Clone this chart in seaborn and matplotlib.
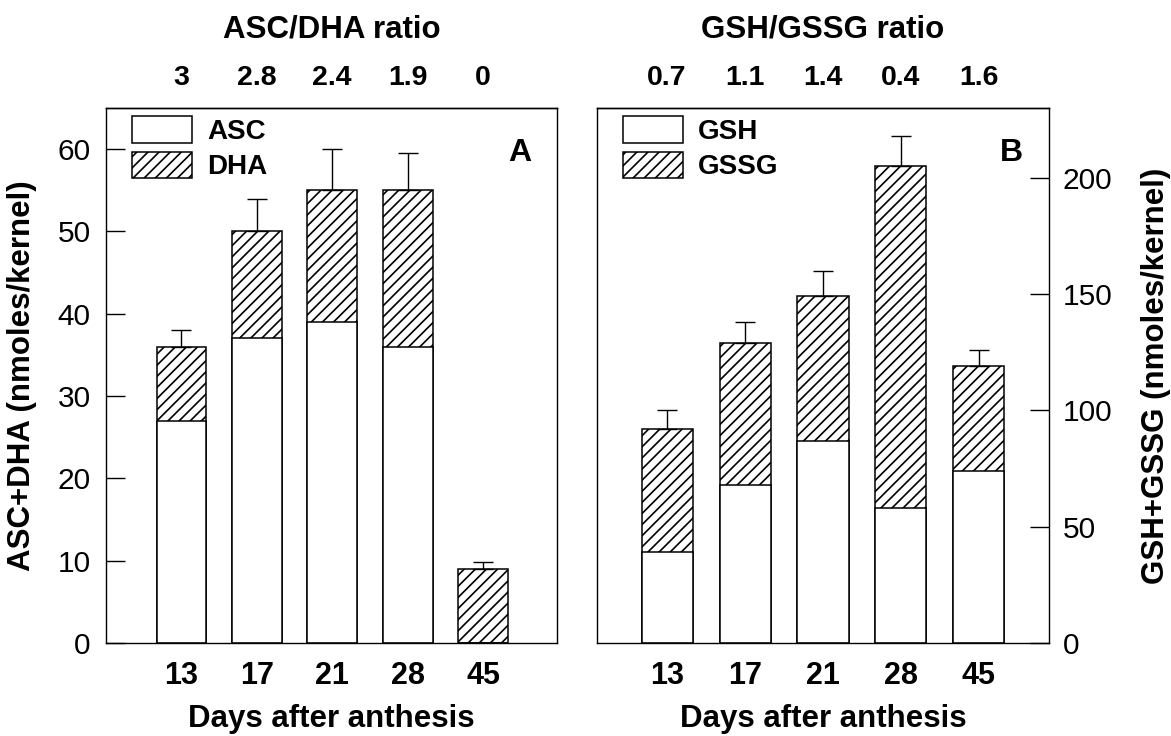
import numpy as np
import matplotlib
matplotlib.use("Agg")
import matplotlib.pyplot as plt
from matplotlib.patches import Patch
import seaborn as sns

# --- data ---
days = ['13', '17', '21', '28', '45']

asc = [27, 37, 39, 36, 0]
dha = [9, 13, 16, 19, 9]
asc_dha_err = [2, 4, 5, 4.5, 0.8]
asc_dha_ratio = ['3', '2.8', '2.4', '1.9', '0']

gsh = [39, 68, 87, 58, 74]
gssg = [53, 61, 62, 147, 45]
gsh_gssg_err = [8, 9, 11, 13, 7]
gsh_gssg_ratio = ['0.7', '1.1', '1.4', '0.4', '1.6']

# --- style ---
sns.set_style('ticks')
plt.rcParams['font.family'] = ['Liberation Sans', 'DejaVu Sans']
plt.rcParams['hatch.linewidth'] = 1.2
plt.rcParams['hatch.color'] = 'black'
plt.rcParams['axes.linewidth'] = 1.0
plt.rcParams['axes.edgecolor'] = 'black'
for key in ['text.color', 'axes.labelcolor', 'xtick.color', 'ytick.color']:
    plt.rcParams[key] = 'black'

fig = plt.figure(figsize=(11.71, 7.36), dpi=100)
ax1 = fig.add_axes([0.0905, 0.1264, 0.3851, 0.7269])
ax2 = fig.add_axes([0.5098, 0.1264, 0.3860, 0.7269])


def draw_panel(ax, bottom, top, err, ratio, names, ratio_title, ylabel, letter,
               ylim, yticks, xlim, width, side):
    total = [b + t for b, t in zip(bottom, top)]
    # hatched bar for total, white bar for the lower component on top of it
    sns.barplot(x=days, y=total, ax=ax, color='white', edgecolor='black',
                linewidth=1.1, width=width, hatch='///', saturation=1,
                errorbar=None)
    sns.barplot(x=days, y=bottom, ax=ax, color='white', edgecolor='black',
                linewidth=1.1, width=width, saturation=1, errorbar=None)
    ax.errorbar(x=np.arange(len(days)), y=total,
                yerr=[np.zeros(len(err)), err], fmt='none', ecolor='black',
                elinewidth=1.0, capsize=7.5, capthick=1.0, zorder=1)

    ax.set_xlim(*xlim)
    ax.set_ylim(*ylim)
    ax.set_yticks(yticks)
    ax.set_yticklabels([str(v) for v in yticks])
    for s in ax.spines.values():
        s.set_visible(True)
        s.set_linewidth(1.0)

    ax.tick_params(axis='x', length=0, pad=13, labelsize=22)
    for lab in ax.get_xticklabels():
        lab.set_fontweight('bold')
    ax.set_xlabel('Days after anthesis', fontsize=22.5, fontweight='bold')
    ax.xaxis.set_label_coords(0.5, -0.115)

    if side == 'left':
        ax.tick_params(axis='y', direction='in', length=14, width=1.0,
                       pad=11, labelsize=21.5)
        ax.set_ylabel(ylabel, fontsize=22.5, fontweight='bold')
        ax.yaxis.set_label_coords(-0.153, 0.5)
    else:
        ax.yaxis.tick_right()
        ax.yaxis.set_label_position('right')
        ax.tick_params(axis='y', direction='in', length=14, width=1.0,
                       pad=10, labelsize=21.5, left=False, right=True)
        ax.set_ylabel(ylabel, fontsize=22.5, fontweight='bold')
        ax.yaxis.set_label_coords(1.2035, 0.5)

    # ratio row on top
    sec = ax.secondary_xaxis('top')
    sec.set_xticks(range(len(days)), labels=ratio)
    sec.tick_params(length=0, pad=12, labelsize=20.5)
    for lab in sec.get_xticklabels():
        lab.set_fontweight('bold')
    ax.text(0.5, 1.131, ratio_title, transform=ax.transAxes, ha='center',
            va='baseline', fontsize=22.5, fontweight='bold')

    ax.text(0.917, 0.916, letter, transform=ax.transAxes, ha='center',
            va='center', fontsize=23, fontweight='bold')

    handles = [Patch(facecolor='white', edgecolor='black', linewidth=1.1),
               Patch(facecolor='white', edgecolor='black', linewidth=1.1,
                     hatch='///')]
    ax.legend(handles, names, loc='upper left',
              bbox_to_anchor=(0.0576, 0.985), frameon=False,
              borderpad=0, borderaxespad=0, handlelength=2.16,
              handleheight=1.1, handletextpad=0.55, labelspacing=0.25,
              prop={'size': 20, 'weight': 'bold'})


draw_panel(ax1, asc, dha, asc_dha_err, asc_dha_ratio, ['ASC', 'DHA'],
           'ASC/DHA ratio', 'ASC+DHA (nmoles/kernel)', 'A',
           (0, 65), [0, 10, 20, 30, 40, 50, 60], (-1.0, 4.98), 0.66, 'left')
draw_panel(ax2, gsh, gssg, gsh_gssg_err, gsh_gssg_ratio, ['GSH', 'GSSG'],
           'GSH/GSSG ratio', 'GSH+GSSG (nmoles/kernel)', 'B',
           (0, 230), [0, 50, 100, 150, 200], (-0.9, 4.9), 0.655, 'right')

fig.savefig('out.png', dpi=100)
